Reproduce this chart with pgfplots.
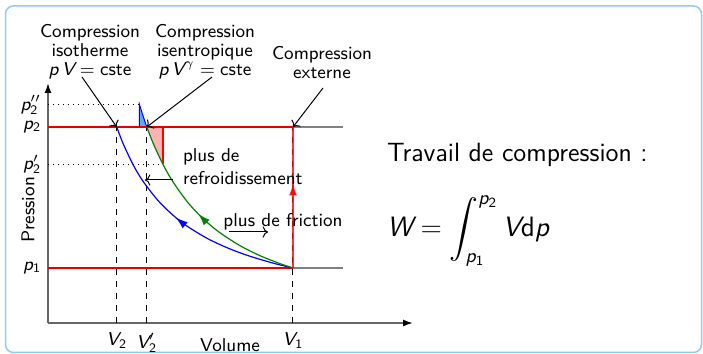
\RequirePackage{fix-cm}
\documentclass[border=0pt]{standalone}
\usepackage{amsmath}
\usepackage{pgfplots}
\pgfplotsset{compat=1.18}
\usetikzlibrary{decorations.markings,arrows.meta}
\renewcommand\familydefault{\sfdefault}
% sans-serif math letters and digits, as on a slide
\DeclareSymbolFont{SFItalics}{TU}{lmss}{m}{sl}
\SetSymbolFont{operators}{normal}{TU}{lmss}{m}{n}
\DeclareMathSymbol{p}{\mathalpha}{SFItalics}{`p}
\DeclareMathSymbol{V}{\mathalpha}{SFItalics}{`V}
\DeclareMathSymbol{W}{\mathalpha}{SFItalics}{`W}
\definecolor{frameblue}{RGB}{140,205,255}
\definecolor{fillblue}{RGB}{90,170,255}
\newcommand\lbl{\fontsize{9.3}{9.6}\selectfont}
\newcommand\bigtxt{\fontsize{13.2}{15}\selectfont}
\newcommand\formula{\fontsize{14}{16}\selectfont}
\tikzset{midarrow/.style={postaction={decorate},
  decoration={markings, mark=at position #1 with {\arrow{Latex[length=6pt,width=4pt]}}}}}
\begin{document}
\begin{tikzpicture}[x=0.5pt,y=0.5pt,font=\lbl]
\useasboundingbox (0,0) rectangle (703,354);
\draw[frameblue, line width=0.75pt, rounded corners=4pt] (5.5,1.5) rectangle (701.5,348);
\begin{axis}[
  at={(48,31)}, anchor=origin,
  x=0.5pt, y=0.5pt,
  xmin=0, xmax=365, ymin=0, ymax=240,
  axis lines=left,
  axis line style={black!60, line width=0.75pt, -{Latex[length=5pt,width=3.5pt,black]}},
  major tick length=0pt,
  xtick={68.75,98.8,245}, xticklabels={$V_2$,$V_2'$,$V_1$},
  ytick={55,158.6,196,218.4}, yticklabels={$p_1$,$p_2'$,$p_2$,$p_2''$},
  tick label style={font=\lbl},
  xticklabel style={yshift=-1.5pt},
  clip=false,
]
% pressure levels p1 and p2
\addplot[black!50, line width=0.75pt] coordinates {(0,196) (295,196)};
\addplot[black!50, line width=0.75pt] coordinates {(0,55) (295,55)};
% volume markers
\addplot[black, dashed, line width=0.5pt] coordinates {(68.75,0) (68.75,196)};
\addplot[black, dashed, line width=0.5pt] coordinates {(98.8,0) (98.8,196)};
\addplot[black, dashed, line width=0.5pt] coordinates {(245,0) (245,196)};
\addplot[black, dotted, line width=0.5pt] coordinates {(0,218.4) (91.5,218.4)};
\addplot[black, dotted, line width=0.5pt] coordinates {(0,158.6) (115,158.6)};
% extra work with cooling
\addplot[fill=red!30, draw=none] coordinates {(98.8,196) (105,180.1) (110,168.7) (115,158.6) (115,196)};
\addplot[red, line width=0.75pt] coordinates {(115,158.6) (115,196)};
% extra work with friction
\addplot[fill=fillblue, draw=blue, line width=0.5pt] coordinates {(98.8,196) (91.5,196) (91.5,218.4) (95,207.2) (98.8,196)};
% isobaric lines
\addplot[red!90!black, line width=0.9pt] coordinates {(0,196) (245,196)};
\addplot[red!90!black, line width=0.9pt] coordinates {(0,55) (245,55)};
% external compression
\addplot[red, opacity=0.8, line width=0.7pt, midarrow=0.6] coordinates {(245,55) (245,196)};
% isothermal compression p V = const
\addplot[blue, line width=0.6pt, smooth, midarrow=0.54] coordinates {
  (245,55) (225,59.9) (200,67.4) (180,74.9) (160,84.2) (140,96.25)
  (125,107.8) (110,122.5) (95,141.8) (85,158.5) (75,179.7) (68.75,196)};
% isentropic compression p V^gamma = const
\addplot[green!50!black, line width=0.6pt, smooth, midarrow=0.52] coordinates {
  (245,55) (230,60.1) (210,68.2) (190,78.5) (170,91.7) (155,104.4)
  (140,120.4) (125,141.1) (115,158.6) (105,180.1) (98.8,196)};
% annotations
\node[align=center, font=\fontsize{9.3}{9.5}\selectfont] at (axis cs:42,271) {Compression\\isotherme\\$p\,V=\mathrm{cste}$};
\node[align=center, font=\fontsize{9.3}{9.5}\selectfont] at (axis cs:157,271) {Compression\\isentropique\\$p\,V^{\gamma}=\mathrm{cste}$};
\node[align=center, font=\fontsize{9.3}{9.5}\selectfont] at (axis cs:274,260) {Compression\\externe};
\draw[->, line width=0.5pt] (axis cs:34,246) -- (axis cs:68.75,196);
\draw[->, line width=0.5pt] (axis cs:164,246) -- (axis cs:98.8,196);
\draw[->, line width=0.5pt] (axis cs:275,235) -- (axis cs:245,196);
\node[align=left, anchor=west, font=\fontsize{9.3}{11.5}\selectfont] at (axis cs:128,156) {plus de\\refroidissement};
\draw[->, line width=0.5pt] (axis cs:125,143) -- (axis cs:97,143);
\node at (axis cs:235,101) {plus de friction};
\draw[->, line width=0.5pt] (axis cs:181,91) -- (axis cs:220,91);
\node[rotate=90] at (axis cs:-20,113) {Pression};
\node at (axis cs:182,-22) {Volume};
\end{axis}
\node[anchor=west, font=\bigtxt] at (380,199) {Travail de compression :};
\node[anchor=west, font=\formula] at (380,123) {$W = \displaystyle\int_{p_1}^{p_2} V\mathrm{d}p$};
\end{tikzpicture}
\end{document}
